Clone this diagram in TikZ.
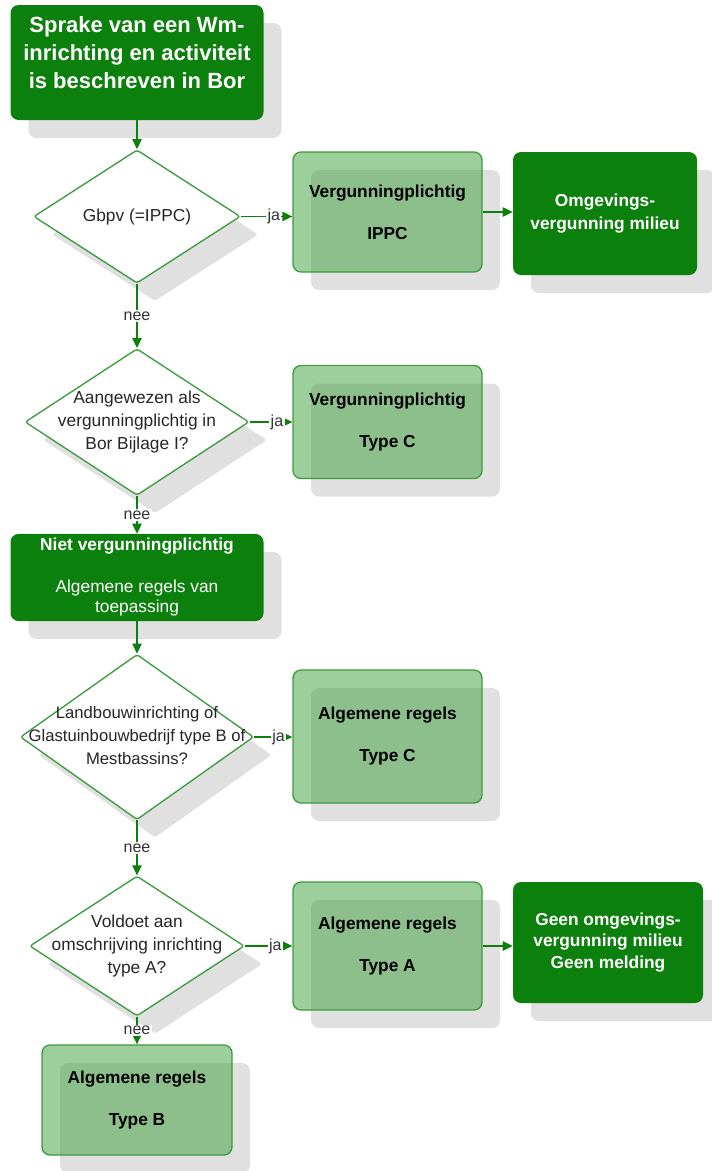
\documentclass[tikz,border=0pt]{standalone}
\usepackage{fontspec}
\setmainfont{Liberation Sans}
\usetikzlibrary{shapes.geometric,shadows,arrows.meta}
\definecolor{wmgroen}{RGB}{12,128,12}
\definecolor{wmlicht}{RGB}{60,160,60}
\definecolor{wmrand}{RGB}{60,155,60}
% tekst in de ruit zonder dat de ruit meegroeit
\newcommand{\vraagtekst}[1]{\makebox[0pt]{\raisebox{-3pt}[0pt][0pt]{\begin{tabular}{@{}c@{}}#1\end{tabular}}}}

\begin{document}
\begin{tikzpicture}[x=0.75pt, y=-0.75pt,
  schaduw/.style={drop shadow={shadow xshift=13.5pt, shadow yshift=-13.5pt, fill=black!12, opacity=1}},
  donker/.style={rectangle, rounded corners=6pt, fill=wmgroen, text=white, align=center,
    font=\fontsize{13}{17}\selectfont\bfseries, schaduw},
  licht/.style={rectangle, rounded corners=6pt, draw=wmrand, line width=1pt, fill=wmlicht,
    fill opacity=0.5, text opacity=1, text=black, align=center, minimum width=141.75pt,
    font=\fontsize{13}{17}\selectfont\bfseries, schaduw},
  vraag/.style={diamond, draw=wmrand, line width=1pt, fill=white, rounded corners=2pt,
    inner sep=0pt, text=black!85, font=\fontsize{13}{17}\selectfont, schaduw},
  pijl/.style={draw=wmgroen, line width=1.1pt, -{Triangle[length=7.5pt, width=7pt]}},
  keuze/.style={fill=white, inner sep=1pt, text=black!80, font=\fontsize{12}{14}\selectfont},
]
  \useasboundingbox (0,0) rectangle (711,1171);

  \node[donker, minimum width=189.75pt, minimum height=86.25pt,
    font=\fontsize{16.5}{21}\selectfont\bfseries] (start) at (137,62.5)
    {Sprake van een Wm-\\inrichting en activiteit\\is beschreven in Bor\\[-6pt]\mbox{}};

  \node[vraag, minimum width=155pt, minimum height=100pt] (q1) at (137,216.5) {\vraagtekst{Gbpv (=IPPC)}};
  \node[licht, minimum height=90pt] (ippc) at (387.5,212) {Vergunningplichtig\\[14.5pt]IPPC};
  \node[donker, minimum width=138pt, minimum height=92.25pt] (omg) at (605,213.5) {Omgevings-\\vergunning milieu};

  \node[vraag, minimum width=168pt, minimum height=110pt] (q2) at (137,422)
    {\vraagtekst{Aangewezen als\\vergunningplichtig in\\Bor Bijlage I?}};
  \node[licht, minimum height=84.75pt] (typec1) at (387.5,422) {Vergunningplichtig\\[14.5pt]Type C};

  \node[donker, minimum width=189.75pt, minimum height=63.75pt, font=\fontsize{13}{15}\selectfont]
    (niet) at (137,577.5) {\textbf{Niet vergunningplichtig}\\[16.5pt]Algemene regels van\\toepassing};

  \node[vraag, minimum width=175pt, minimum height=124pt, font=\fontsize{12.5}{17}\selectfont] (q3) at (137,737)
    {\vraagtekst{Landbouwinrichting of\\Glastuinbouwbedrijf type B of\\Mestbassins?}};
  \node[licht, minimum height=99.75pt] (typec2) at (387.5,736.5) {Algemene regels\\[14.5pt]Type C};

  \node[vraag, minimum width=161pt, minimum height=105pt] (q4) at (137,946)
    {\vraagtekst{Voldoet aan\\omschrijving inrichting\\type A?}};
  \node[licht, minimum height=96pt] (typea) at (387.5,946) {Algemene regels\\[14.5pt]Type A};
  \node[donker, minimum width=142.5pt, minimum height=90.75pt, font=\fontsize{13}{16}\selectfont\bfseries]
    (geen) at (608,942.5) {Geen omgevings-\\vergunning milieu\\Geen melding};

  \node[licht, minimum width=142.5pt, minimum height=82.5pt] (typeb) at (137,1100) {Algemene regels\\[14.5pt]Type B};

  % verbindingen
  \draw[pijl] (start) -- (q1);
  \draw[pijl] (q1.east) -- node[keuze, pos=0.64] {ja} (q1.east -| ippc.west);
  \draw[pijl] (ippc.east) -- (ippc.east -| omg.west);
  \draw[pijl] (q1) -- node[keuze] {nee} (q2);
  \draw[pijl] (q2.east) -- node[keuze, pos=0.64] {ja} (q2.east -| typec1.west);
  \draw[pijl] (q2) -- node[keuze] {nee} (niet);
  \draw[pijl] (niet) -- (q3);
  \draw[pijl] (q3.east) -- node[keuze, pos=0.64] {ja} (q3.east -| typec2.west);
  \draw[pijl] (q3) -- node[keuze] {nee} (q4);
  \draw[pijl] (q4.east) -- node[keuze, pos=0.64] {ja} (q4.east -| typea.west);
  \draw[pijl] (typea.east) -- (typea.east -| geen.west);
  \draw[pijl] (q4) -- node[keuze] {nee} (typeb);
\end{tikzpicture}
\end{document}
